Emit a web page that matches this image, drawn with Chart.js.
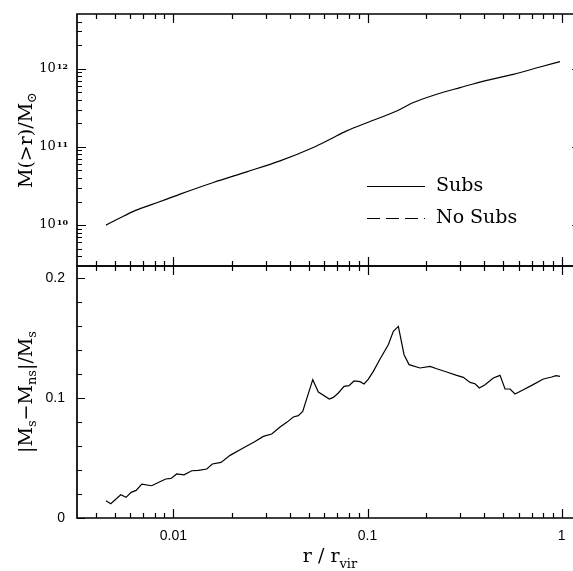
<!DOCTYPE html>
<html>
<head>
<meta charset="utf-8">
<script src="https://cdn.jsdelivr.net/npm/chart.js@4"></script>
<style>
    html, body { margin: 0; padding: 0; background: #fff; overflow: hidden; }
    #wrap { position: relative; width: 573px; height: 571px; overflow: hidden; }
    #wrap canvas { position: absolute; left: 0; top: 0; width: 573px; height: 571px; }
</style>
</head>
<body>
<div id="wrap">
    <canvas id="massChart" width="573" height="571"></canvas>
    <canvas id="diffChart" width="573" height="571"></canvas>
</div>
<script>
// Panel de arriba: masa acumulada (con subestructura)
const massR = [0.0045, 0.00536, 0.00623, 0.00759, 0.00925, 0.01083, 0.01607, 0.02387, 0.03543,
    0.05255, 0.0641, 0.07807, 0.1, 0.1413, 0.1721, 0.2272, 0.2995, 0.411, 0.5633, 0.7731, 0.98];
const massSubs = [1.0e10, 1.25e10, 1.50e10, 1.80e10, 2.15e10, 2.49e10, 3.51e10, 4.80e10, 6.62e10,
    9.82e10, 1.25e11, 1.60e11, 2.05e11, 2.88e11, 3.69e11, 4.71e11, 5.73e11, 7.10e11, 8.47e11,
    1.05e12, 1.23e12];

// Panel de abajo: diferencia relativa |Ms - Mns| / Ms
const diffR = [0.0045, 0.00476, 0.00536, 0.00571, 0.00606, 0.00643, 0.00688, 0.00774, 0.00847,
    0.00914, 0.00973, 0.0104, 0.01135, 0.01244, 0.01345, 0.01486, 0.01588, 0.0176, 0.01959,
    0.02206, 0.02634, 0.02906, 0.03211, 0.03543, 0.03836, 0.04148, 0.04401, 0.04637, 0.05222,
    0.0558, 0.06357, 0.06666, 0.07073, 0.07568, 0.08029, 0.08519, 0.09149, 0.09594, 0.101,
    0.1071, 0.116, 0.1279, 0.1358, 0.1441, 0.1542, 0.1636, 0.1863, 0.2099, 0.2272, 0.2557,
    0.2878, 0.3113, 0.3372, 0.3577, 0.3763, 0.4027, 0.4444, 0.4812, 0.5106, 0.5418, 0.5748,
    0.6341, 0.7005, 0.804, 0.8881, 0.9346, 0.98];
const diffVal = [0.0144, 0.0119, 0.0194, 0.0172, 0.0214, 0.023, 0.0283, 0.0269, 0.030,
    0.0325, 0.033, 0.0367, 0.036, 0.0394, 0.0397, 0.0408, 0.045, 0.0463, 0.0522,
    0.0569, 0.0638, 0.068, 0.070, 0.0758, 0.0797, 0.0842, 0.0853, 0.0889, 0.1153,
    0.105, 0.0992, 0.1005, 0.1042, 0.1097, 0.1103, 0.1142, 0.1136, 0.1117, 0.1158,
    0.1222, 0.1325, 0.1444, 0.1556, 0.1597, 0.1361, 0.1278, 0.125, 0.1264, 0.1244, 0.1217,
    0.1189, 0.1172, 0.113, 0.1119, 0.1083, 0.1111, 0.1167, 0.1189, 0.1075, 0.1075, 0.1033,
    0.1069, 0.1105, 0.1158, 0.1175, 0.1186, 0.118];

// Ticks
const xMajorTicks = [0.01, 0.1, 1];
const xTickLabels = ['0.01', '0.1', '1'];
const massMajorTicks = [1e10, 1e11, 1e12];
const massTickExp = ['10', '11', '12'];
const diffMajorTicks = [0, 0.1, 0.2];
const diffTickLabels = ['0', '0.1', '0.2'];
const legendLabels = ['Subs', 'No Subs'];

// la imagen corta el panel por la derecha: el eje visible llega hasta ~1.14
const X_MIN = 0.00319, X_MAX = 1.143;
const RIGHT_CUT = 9; // el borde derecho del marco queda 9 px fuera
const SERIF = '"DejaVu Serif", serif';
const SANS = '"Liberation Sans", Arial, sans-serif';

function logMinors(min, max) {
    const out = [];
    for (let e = Math.floor(Math.log10(min)); e <= Math.ceil(Math.log10(max)); e++) {
        for (let k = 2; k <= 9; k++) {
            const v = k * Math.pow(10, e);
            if (v > min && v < max) out.push(v);
        }
    }
    return out;
}

// texto con sub/superíndices: [{t, s}] s = 0 normal, -1 sub, 1 sup
function richWidth(ctx, segs, size) {
    let w = 0;
    segs.forEach(sg => {
        ctx.font = `${sg.s ? Math.round(size * 0.68) : size}px ${sg.f || SERIF}`;
        w += ctx.measureText(sg.t).width;
    });
    return w;
}
function drawRich(ctx, segs, x, y, size) {
    let cx = x;
    segs.forEach(sg => {
        const fs = sg.s ? Math.round(size * 0.68) : size;
        ctx.font = `${fs}px ${sg.f || SERIF}`;
        const dy = sg.s === -1 ? size * 0.3 : (sg.s === 1 ? -size * 0.38 : 0);
        ctx.fillText(sg.t, cx, y + dy);
        cx += ctx.measureText(sg.t).width;
    });
}

function drawFrame(chart, opts) {
    const ctx = chart.ctx;
    const a = chart.chartArea;
    const xs = chart.scales.x, ys = chart.scales.y;
    const rightEdge = a.right + RIGHT_CUT;
    ctx.save();
    ctx.strokeStyle = '#000';
    ctx.fillStyle = '#000';

    // ticks de x (arriba y abajo, hacia dentro)
    ctx.lineWidth = 1.2;
    const xt = [].concat(xMajorTicks.map(v => [v, 9]), logMinors(X_MIN, X_MAX).map(v => [v, 5]));
    xt.forEach(([v, len]) => {
        const px = Math.round(xs.getPixelForValue(v)) + 0.5;
        if (px < a.left || px > a.right) return;
        ctx.beginPath();
        ctx.moveTo(px, a.bottom); ctx.lineTo(px, a.bottom - len);
        ctx.moveTo(px, a.top); ctx.lineTo(px, a.top + len);
        ctx.stroke();
    });

    // ticks de y (los de la derecha salen del borde cortado)
    opts.yTicks.forEach(([v, len]) => {
        const py = Math.round(ys.getPixelForValue(v)) + 0.5;
        if (py < a.top - 1 || py > a.bottom + 1) return;
        ctx.beginPath();
        ctx.moveTo(a.left, py); ctx.lineTo(a.left + len, py);
        ctx.moveTo(rightEdge, py); ctx.lineTo(rightEdge - len - 0.8, py);
        ctx.stroke();
    });

    // marco
    ctx.lineWidth = 1.7;
    ctx.beginPath();
    ctx.moveTo(a.right, a.top); ctx.lineTo(a.left, a.top);
    ctx.lineTo(a.left, a.bottom); ctx.lineTo(a.right, a.bottom);
    ctx.stroke();
    ctx.restore();
}

const massPlugin = {
    id: 'massDecor',
    afterDraw(chart) {
        const ctx = chart.ctx, a = chart.chartArea, ys = chart.scales.y;
        const yTicks = [].concat(massMajorTicks.map(v => [v, 9]), logMinors(3e9, 5e12).map(v => [v, 5]));
        drawFrame(chart, { yTicks });

        ctx.save();
        ctx.fillStyle = '#000';
        ctx.textBaseline = 'middle';
        massMajorTicks.forEach((v, i) => {
            const py = ys.getPixelForValue(v);
            ctx.textAlign = 'left';
            ctx.font = `13px ${SERIF}`;
            const w10 = ctx.measureText('10').width;
            ctx.font = `bold 8px ${SERIF}`;
            const wExp = ctx.measureText(massTickExp[i]).width;
            const x0 = a.left - 9 - w10 - wExp - 1;
            ctx.font = `13px ${SERIF}`;
            ctx.fillText('10', x0, py);
            ctx.font = `bold 8px ${SERIF}`;
            ctx.fillText(massTickExp[i], x0 + w10 + 1, py - 2);
        });

        // título eje y
        ctx.translate(27, (a.top + a.bottom) / 2);
        ctx.rotate(-Math.PI / 2);
        const t = [{ t: 'M(>r)/M', s: 0 }, { t: '\u2299', s: -1 }];
        ctx.textAlign = 'left';
        ctx.textBaseline = 'middle';
        drawRich(ctx, t, -richWidth(ctx, t, 19) / 2, 0, 19);
        ctx.restore();

        // leyenda
        ctx.save();
        ctx.strokeStyle = '#000';
        ctx.fillStyle = '#000';
        ctx.lineWidth = 1;
        const lx0 = 367, lx1 = 425;
        const rows = [186.5, 218.5];
        rows.forEach((ly, i) => {
            ctx.setLineDash(i === 0 ? [] : [13, 6]);
            ctx.beginPath();
            ctx.moveTo(lx0, ly); ctx.lineTo(lx1, ly);
            ctx.stroke();
            ctx.setLineDash([]);
            ctx.font = `19px ${SERIF}`;
            ctx.textBaseline = 'middle';
            ctx.textAlign = 'left';
            ctx.fillText(legendLabels[i], 436, ly);
        });
        ctx.restore();
    }
};

const diffPlugin = {
    id: 'diffDecor',
    afterDraw(chart) {
        const ctx = chart.ctx, a = chart.chartArea, xs = chart.scales.x, ys = chart.scales.y;
        const yTicks = [];
        for (let k = 0; k <= 10; k++) yTicks.push([k * 0.02, k % 5 === 0 ? 8 : 5]);
        drawFrame(chart, { yTicks });

        ctx.save();
        ctx.fillStyle = '#000';
        ctx.font = `14px ${SANS}`;
        ctx.textBaseline = 'middle';
        ctx.textAlign = 'right';
        diffMajorTicks.forEach((v, i) => {
            ctx.fillText(diffTickLabels[i], a.left - 12, ys.getPixelForValue(v));
        });
        ctx.textAlign = 'center';
        xMajorTicks.forEach((v, i) => {
            ctx.fillText(xTickLabels[i], xs.getPixelForValue(v), a.bottom + 18);
        });

        // título eje x
        ctx.textAlign = 'left';
        ctx.textBaseline = 'alphabetic';
        const xt = [{ t: 'r / r', s: 0 }, { t: 'vir', s: -1 }];
        drawRich(ctx, xt, 330 - richWidth(ctx, xt, 19) / 2, a.bottom + 44, 19);

        // título eje y
        ctx.translate(27, (a.top + a.bottom) / 2);
        ctx.rotate(-Math.PI / 2);
        ctx.textBaseline = 'middle';
        const yt = [{ t: '|M', s: 0 }, { t: 's', s: -1 }, { t: '\u2212M', s: 0 }, { t: 'ns', s: -1 },
            { t: '|/M', s: 0 }, { t: 's', s: -1 }];
        drawRich(ctx, yt, -richWidth(ctx, yt, 19) / 2, 0, 19);
        ctx.restore();
    }
};

function baseOptions(pad, yScale) {
    return {
        responsive: false,
        animation: false,
        layout: { padding: pad },
        plugins: { legend: { display: false }, tooltip: { enabled: false } },
        scales: {
            x: { type: 'logarithmic', min: X_MIN, max: X_MAX, display: false },
            y: Object.assign({ display: false }, yScale)
        }
    };
}

new Chart(document.getElementById('massChart'), {
    type: 'line',
    data: {
        datasets: [{
            label: legendLabels[0],
            data: massR.map((r, i) => ({ x: r, y: massSubs[i] })),
            borderColor: '#000',
            borderWidth: 1.2,
            pointRadius: 0,
            cubicInterpolationMode: 'monotone'
        }]
    },
    options: baseOptions({ top: 14, left: 77, right: 0, bottom: 305 },
        { type: 'logarithmic', min: 3e9, max: 5e12 }),
    plugins: [massPlugin]
});

new Chart(document.getElementById('diffChart'), {
    type: 'line',
    data: {
        datasets: [{
            label: 'diff',
            data: diffR.map((r, i) => ({ x: r, y: diffVal[i] })),
            borderColor: '#000',
            borderWidth: 1.2,
            pointRadius: 0,
            tension: 0
        }]
    },
    options: baseOptions({ top: 266, left: 77, right: 0, bottom: 53 },
        { type: 'linear', min: 0, max: 0.21 }),
    plugins: [diffPlugin]
});
</script>
</body>
</html>
